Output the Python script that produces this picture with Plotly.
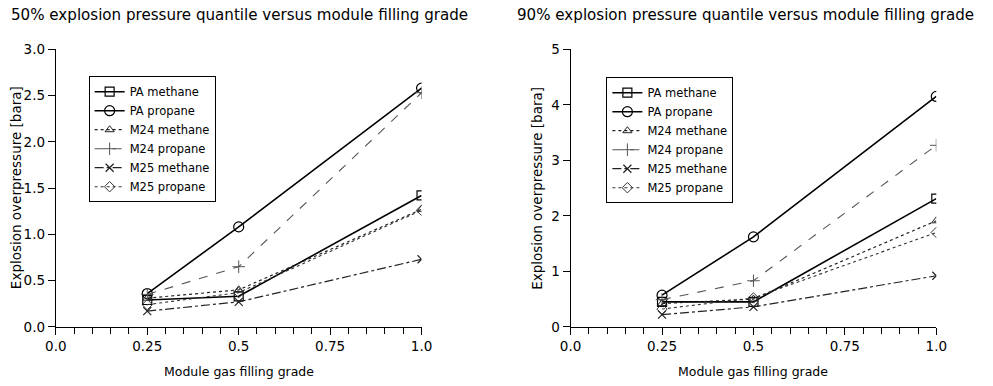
import plotly.graph_objects as go

grade = [0.25, 0.5, 1.0]
series_names = ["PA methane", "PA propane", "M24 methane", "M24 propane", "M25 methane", "M25 propane"]

# 50% quantile (left)
q50_pa_methane = [0.29, 0.33, 1.42]
q50_pa_propane = [0.36, 1.08, 2.58]
q50_m24_methane = [0.31, 0.40, 1.27]
q50_m24_propane = [0.35, 0.65, 2.53]
q50_m25_methane = [0.17, 0.27, 0.73]
q50_m25_propane = [0.24, 0.37, 1.26]

# 90% quantile (right)
q90_pa_methane = [0.45, 0.45, 2.31]
q90_pa_propane = [0.57, 1.62, 4.15]
q90_m24_methane = [0.42, 0.50, 1.91]
q90_m24_propane = [0.49, 0.83, 3.27]
q90_m25_methane = [0.22, 0.36, 0.92]
q90_m25_propane = [0.32, 0.52, 1.70]

x_tickvals = [0, 0.25, 0.5, 0.75, 1.0]
x_ticktext = ["0.0", "0.25", "0.5", "0.75", "1.0"]

styles = [
    dict(line=dict(color="black", width=1.6, dash="solid"), marker=dict(symbol="square-open", size=9, color="black", line=dict(width=1.2))),
    dict(line=dict(color="black", width=1.6, dash="solid"), marker=dict(symbol="circle-open", size=10, color="black", line=dict(width=1.2))),
    dict(line=dict(color="#222", width=1.2, dash="dot"), marker=dict(symbol="triangle-up-open", size=8, color="#222", line=dict(width=1))),
    dict(line=dict(color="#555", width=1.1, dash="dash"), marker=dict(symbol="cross-thin-open", size=9, color="#555", line=dict(width=1))),
    dict(line=dict(color="#222", width=1.2, dash="dashdot"), marker=dict(symbol="x-thin-open", size=8, color="#222", line=dict(width=1.2))),
    dict(line=dict(color="#333", width=1.1, dash="dot"), marker=dict(symbol="diamond-open", size=8, color="#333", line=dict(width=1))),
]

left = [q50_pa_methane, q50_pa_propane, q50_m24_methane, q50_m24_propane, q50_m25_methane, q50_m25_propane]
right = [q90_pa_methane, q90_pa_propane, q90_m24_methane, q90_m24_propane, q90_m25_methane, q90_m25_propane]

fig = go.Figure()
font = "DejaVu Sans"
for name, ys, st in zip(series_names, left, styles):
    fig.add_trace(go.Scatter(x=grade, y=ys, name=name, mode="lines+markers",
                             line=st["line"], marker=st["marker"], xaxis="x", yaxis="y", legend="legend"))
for name, ys, st in zip(series_names, right, styles):
    fig.add_trace(go.Scatter(x=grade, y=ys, name=name, mode="lines+markers",
                             line=st["line"], marker=st["marker"], xaxis="x2", yaxis="y2", legend="legend2"))

W, H = 993, 386
SX, SY, OFF = 0.984, 0.96, 8  # page margin and capture scaling compensation


def px(x):
    return (x / SX - OFF) / W


def py(y):
    return 1 - (y / SY - OFF) / H


ydom = [py(327), py(49)]
common_x = dict(range=[0, 1], tickvals=x_tickvals, ticktext=x_ticktext, showline=True, linecolor="black",
                linewidth=1.2, ticks="outside", ticklen=7, tickcolor="black", showgrid=False, zeroline=False,
                minor=dict(dtick=0.05, tick0=0, ticks="outside", ticklen=6, tickcolor="black"),
                tickfont=dict(size=13.5, color="black", family=font))
common_y = dict(showline=True, linecolor="black", linewidth=1.2, ticks="outside", ticklen=7, tickcolor="black",
                showgrid=False, zeroline=False, tickfont=dict(size=13.5, color="black", family=font))

leg = dict(bordercolor="black", borderwidth=1, bgcolor="white", xanchor="left", yanchor="top",
           font=dict(size=11.5, color="black", family=font), tracegroupgap=0, itemwidth=30)

ann_font = dict(color="black", family=font)
fig.update_layout(
    width=W, height=H, margin=dict(l=0, r=0, t=0, b=0),
    paper_bgcolor="white", plot_bgcolor="white",
    xaxis=dict(domain=[px(53), px(421)], anchor="y", **common_x),
    yaxis=dict(domain=ydom, anchor="x", range=[0, 3], dtick=0.5, tickformat=".1f", **common_y),
    xaxis2=dict(domain=[px(571), px(939)], anchor="y2", **common_x),
    yaxis2=dict(domain=ydom, anchor="x2", range=[0, 5], dtick=1, **common_y),
    legend=dict(x=px(86), y=py(76), **leg),
    legend2=dict(x=px(607), y=py(77), **leg),
    showlegend=True,
    annotations=[
        dict(text="50% explosion pressure quantile versus module filling grade", x=px(6), y=py(15),
             xref="paper", yref="paper", xanchor="left", yanchor="middle", showarrow=False,
             font=dict(size=15.1, **ann_font)),
        dict(text="90% explosion pressure quantile versus module filling grade", x=px(515), y=py(15),
             xref="paper", yref="paper", xanchor="left", yanchor="middle", showarrow=False,
             font=dict(size=15.1, **ann_font)),
        dict(text="Explosion overpressure [bara]", x=px(13), y=py(188), xref="paper", yref="paper",
             xanchor="center", yanchor="middle", textangle=-90, showarrow=False, font=dict(size=13.5, **ann_font)),
        dict(text="Explosion overpressure [bara]", x=px(537), y=py(188), xref="paper", yref="paper",
             xanchor="center", yanchor="middle", textangle=-90, showarrow=False, font=dict(size=13.5, **ann_font)),
        dict(text="Module gas filling grade", x=px(237), y=py(372), xref="paper", yref="paper",
             xanchor="center", yanchor="middle", showarrow=False, font=dict(size=12.5, **ann_font)),
        dict(text="Module gas filling grade", x=px(755), y=py(372), xref="paper", yref="paper",
             xanchor="center", yanchor="middle", showarrow=False, font=dict(size=12.5, **ann_font)),
    ],
)

fig.write_html("out.html")
